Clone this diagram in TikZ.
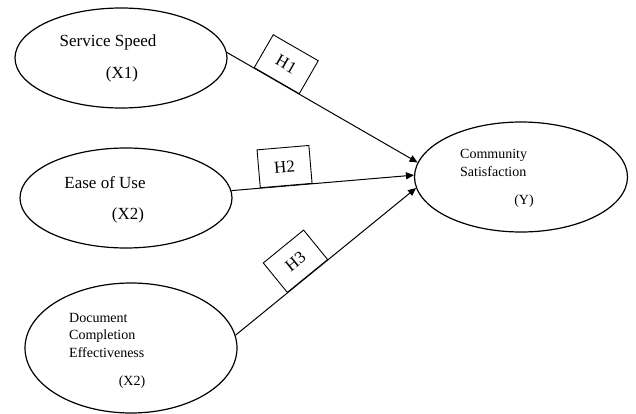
\documentclass[tikz,border=0pt]{standalone}
\usepackage{fontspec}
\setmainfont{Liberation Serif}
\usetikzlibrary{shapes.geometric,arrows.meta}

\begin{document}
\begin{tikzpicture}[x=1pt, y=-1pt,
    construct/.style={ellipse, draw, line width=1.2pt, minimum width=212, minimum height=100, inner sep=0},
    hyp/.style={rectangle, draw, fill=white, line width=0.9pt, minimum width=52, minimum height=38, inner sep=0, font=\fontsize{17}{20}\selectfont},
    link/.style={-{Triangle[length=8pt,width=7pt]}, line width=1pt},
    big/.style={inner sep=0, font=\fontsize{17}{20}\selectfont},
    small/.style={inner sep=0, align=left, font=\fontsize{14}{17.5}\selectfont}]
    \useasboundingbox (0,0) rectangle (636,414);

    % constructs
    \node[construct] (Speed) at (121,58) {};
    \node[construct] (Ease) at (126,198) {};
    \node[construct, minimum height=130] (Doc) at (131,348) {};
    \node[construct, minimum width=213, minimum height=110] (Sat) at (521,177) {};

    % names and variables inside the ellipses (multi-line: base = last line)
    \node[big, anchor=base] (SpeedName) at (108,47) {Service Speed};
    \node[big, anchor=base] (SpeedVar) at (122,79) {(X1)};
    \node[big, anchor=base] (EaseName) at (105,188) {Ease of Use};
    \node[big, anchor=base] (EaseVar) at (128,219) {(X2)};
    \node[small, anchor=base west] (DocName) at (69,357) {Document\\Completion\\Effectiveness};
    \node[small, anchor=base] (DocVar) at (132,385) {(X2)};
    \node[small, anchor=base west] (SatName) at (460,176) {Community\\Satisfaction};
    \node[small, anchor=base] (SatVar) at (524,204) {(Y)};

    % hypotheses
    \draw[link] (Speed.3) -- node[hyp, sloped, above, pos=0.26] (H1) {H1} (Sat.172);
    \draw[link] (Ease.4) -- node[hyp, sloped, above, pos=0.3] (H2) {H2} (Sat.179);
    \draw[link] (Doc.7) -- node[hyp, sloped, above, pos=0.4] (H3) {H3} (Sat.186);
\end{tikzpicture}
\end{document}
